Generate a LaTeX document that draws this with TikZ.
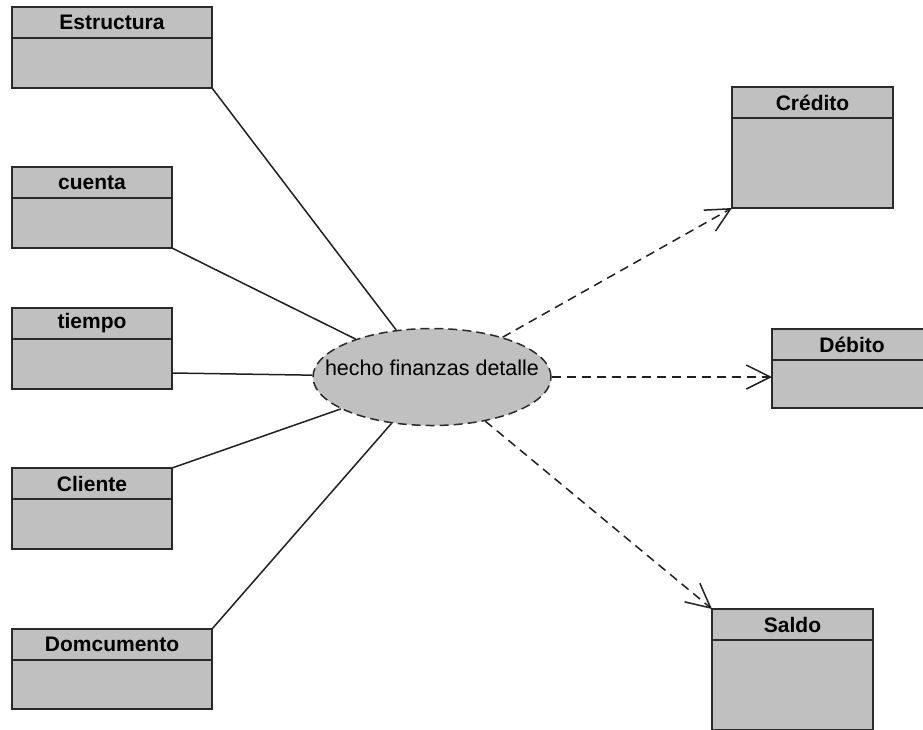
\documentclass[tikz,border=0pt]{standalone}
\usepackage{fontspec}
\setmainfont{Liberation Sans}
\usetikzlibrary{shapes.geometric,arrows.meta}

\definecolor{boxgray}{HTML}{C0C0C0}
\definecolor{boxline}{HTML}{2A2A2A}
\definecolor{linkline}{HTML}{202020}

\tikzset{
  umlbox/.style 2 args={draw=boxline, line width=1.6pt, fill=boxgray,
    anchor=north west, minimum width=#1, minimum height=#2,
    inner sep=0pt, outer sep=0pt,
    path picture={\draw[boxline, line width=1.6pt]
      ([yshift=-31pt]path picture bounding box.north west) --
      ([yshift=-31pt]path picture bounding box.north east);}},
  hdr/.style={anchor=center, yshift=-15.5pt, inner sep=0pt,
    font=\fontsize{21}{24}\selectfont\bfseries},
  fact/.style={ellipse, draw=boxline, line width=1.5pt, fill=boxgray,
    dash pattern=on 9pt off 5pt, minimum width=238pt, minimum height=97pt,
    inner sep=0pt},
  facttext/.style={anchor=center, yshift=9pt, inner sep=0pt,
    font=\fontsize{21.5}{24}\selectfont},
  assoc/.style={draw=linkline, line width=1.5pt},
  depend/.style={draw=linkline, line width=1.5pt, dash pattern=on 9pt off 6pt,
    -{Straight Barb[length=24pt, width=24pt, line width=1.5pt]}},
}

\begin{document}
\begin{tikzpicture}[x=1pt, y=-1pt]
  \clip (0,0) rectangle (923,729);
  \fill[white] (0,0) rectangle (923,729);

  % dimension tables on the left
  \node[umlbox={200pt}{81pt}, label={[hdr]north:Estructura}] (estructura) at (12,7) {};
  \node[umlbox={160pt}{81pt}, label={[hdr]north:cuenta}] (cuenta) at (12,167) {};
  \node[umlbox={160pt}{81pt}, label={[hdr]north:tiempo}] (tiempo) at (12,308) {};
  \node[umlbox={160pt}{81pt}, label={[hdr]north:Cliente}] (cliente) at (12,468) {};
  \node[umlbox={200pt}{80pt}, label={[hdr]north:Domcumento}] (documento) at (12,629) {};

  % dependent tables on the right
  \node[umlbox={161pt}{121pt}, label={[hdr]north:Crédito}] (credito) at (732,87) {};
  \node[umlbox={160pt}{79pt}, label={[hdr]north:Débito}] (debito) at (772,329) {};
  \node[umlbox={161pt}{121pt}, label={[hdr]north:Saldo}] (saldo) at (712,609) {};

  % fact
  \node[fact, label={[facttext]center:hecho finanzas detalle}] (hecho) at (432,377) {};

  \coordinate (tiempoport) at ([yshift=16pt]tiempo.south east);

  % associations
  \draw[assoc] (estructura.south east) -- (hecho);
  \draw[assoc] (cuenta.south east) -- (hecho);
  \draw[assoc] (tiempoport) -- (hecho);
  \draw[assoc] (cliente.north east) -- (hecho);
  \draw[assoc] (documento.north east) -- (hecho);

  % dependencies
  \draw[depend] (hecho) -- (credito.south west);
  \draw[depend] (hecho.east) -- (debito.west |- hecho.east);
  \draw[depend] (hecho) -- (saldo.north west);
\end{tikzpicture}
\end{document}
